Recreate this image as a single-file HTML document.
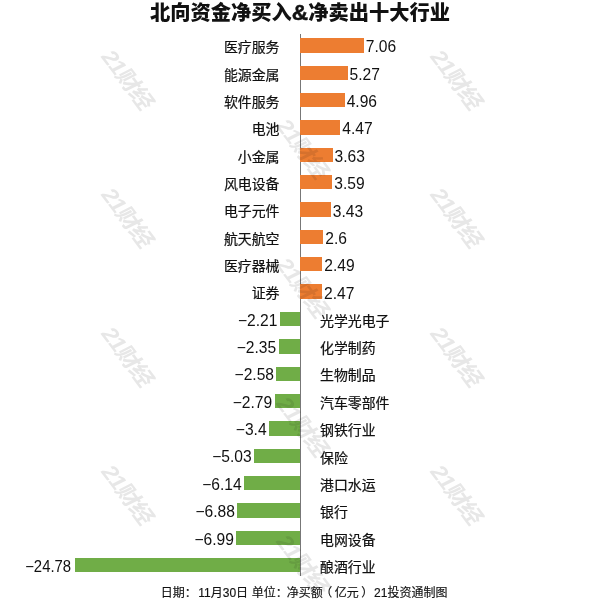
<!DOCTYPE html>
<html lang="zh"><head><meta charset="utf-8"><title>北向资金净买入&amp;净卖出十大行业</title>
<style>
html,body{margin:0;padding:0;background:#fff;}
body{width:600px;height:600px;position:relative;overflow:hidden;font-family:"Liberation Sans","Noto Sans CJK SC",sans-serif;color:#1a1a1a;}
.t{position:absolute;left:0;width:600px;text-align:center;top:-1.1px;font-size:20.4px;font-weight:900;line-height:28px;color:#111;white-space:nowrap;transform:scaleX(0.993);transform-origin:300.3px 0;}
.b{position:absolute;height:14.4px;}
.o{background:#ed7d31;}
.g{background:#70ad47;}
.c{position:absolute;font-size:13.9px;-webkit-text-stroke:0.22px #111;color:#111;line-height:20px;height:20px;white-space:nowrap;}
.v{position:absolute;font-size:15.6px;color:#111;line-height:20px;height:20px;white-space:nowrap;}
.r{text-align:right;}
.ax{position:absolute;left:300px;top:34px;width:1px;height:542px;background:#777;}
.f{position:absolute;left:160.7px;top:584.6px;-webkit-text-stroke:0.15px #111;font-size:12px;line-height:16px;white-space:nowrap;color:#111;}
.w{position:absolute;width:120px;height:30px;margin-left:-60px;margin-top:-15px;line-height:30px;text-align:center;font-size:22px;font-weight:bold;color:#e7e7e7;mix-blend-mode:multiply;transform:rotate(53deg) skewX(-10deg) scaleX(1.06);white-space:nowrap;letter-spacing:-1px;}
</style></head><body>
<div class="t">北向资金净买入<span style="-webkit-text-stroke:0.5px #111;font-size:1.12em;line-height:1">&amp;</span>净卖出十大行业</div>

<div class="ax"></div>
<div class="b o" style="left:299.9px;top:38.2px;width:64.1px"></div>
<div class="c r" style="right:320.5px;top:37.1px">医疗服务</div>
<div class="v" style="left:365.8px;top:37.3px">7.06</div>
<div class="b o" style="left:299.9px;top:65.6px;width:47.9px"></div>
<div class="c r" style="right:320.5px;top:64.5px">能源金属</div>
<div class="v" style="left:349.5px;top:64.7px">5.27</div>
<div class="b o" style="left:299.9px;top:92.9px;width:45.1px"></div>
<div class="c r" style="right:320.5px;top:91.8px">软件服务</div>
<div class="v" style="left:346.7px;top:92.0px">4.96</div>
<div class="b o" style="left:299.9px;top:120.3px;width:40.6px"></div>
<div class="c r" style="right:320.5px;top:119.2px">电池</div>
<div class="v" style="left:342.3px;top:119.4px">4.47</div>
<div class="b o" style="left:299.9px;top:147.6px;width:33.0px"></div>
<div class="c r" style="right:320.5px;top:146.5px">小金属</div>
<div class="v" style="left:334.6px;top:146.7px">3.63</div>
<div class="b o" style="left:299.9px;top:175.0px;width:32.6px"></div>
<div class="c r" style="right:320.5px;top:173.9px">风电设备</div>
<div class="v" style="left:334.3px;top:174.1px">3.59</div>
<div class="b o" style="left:299.9px;top:202.4px;width:31.2px"></div>
<div class="c r" style="right:320.5px;top:201.3px">电子元件</div>
<div class="v" style="left:332.8px;top:201.5px">3.43</div>
<div class="b o" style="left:299.9px;top:229.7px;width:23.6px"></div>
<div class="c r" style="right:320.5px;top:228.6px">航天航空</div>
<div class="v" style="left:325.3px;top:228.8px">2.6</div>
<div class="b o" style="left:299.9px;top:257.1px;width:22.6px"></div>
<div class="c r" style="right:320.5px;top:256.0px">医疗器械</div>
<div class="v" style="left:324.3px;top:256.2px">2.49</div>
<div class="b o" style="left:299.9px;top:284.4px;width:22.4px"></div>
<div class="c r" style="right:320.5px;top:283.3px">证券</div>
<div class="v" style="left:324.1px;top:283.5px">2.47</div>
<div class="b g" style="left:279.8px;top:311.8px;width:20.1px"></div>
<div class="c" style="left:320.0px;top:310.7px">光学光电子</div>
<div class="v r" style="right:322.6px;top:310.6px">−2.21</div>
<div class="b g" style="left:278.5px;top:339.2px;width:21.4px"></div>
<div class="c" style="left:320.0px;top:338.1px">化学制药</div>
<div class="v r" style="right:323.9px;top:338.0px">−2.35</div>
<div class="b g" style="left:276.4px;top:366.5px;width:23.4px"></div>
<div class="c" style="left:320.0px;top:365.4px">生物制品</div>
<div class="v r" style="right:326.0px;top:365.3px">−2.58</div>
<div class="b g" style="left:274.5px;top:393.9px;width:25.3px"></div>
<div class="c" style="left:320.0px;top:392.8px">汽车零部件</div>
<div class="v r" style="right:327.9px;top:392.7px">−2.79</div>
<div class="b g" style="left:269.0px;top:421.2px;width:30.9px"></div>
<div class="c" style="left:320.0px;top:420.1px">钢铁行业</div>
<div class="v r" style="right:333.4px;top:420.0px">−3.4</div>
<div class="b g" style="left:254.1px;top:448.6px;width:45.7px"></div>
<div class="c" style="left:320.0px;top:447.5px">保险</div>
<div class="v r" style="right:348.3px;top:447.4px">−5.03</div>
<div class="b g" style="left:244.1px;top:476.0px;width:55.8px"></div>
<div class="c" style="left:320.0px;top:474.9px">港口水运</div>
<div class="v r" style="right:358.3px;top:474.8px">−6.14</div>
<div class="b g" style="left:237.3px;top:503.3px;width:62.5px"></div>
<div class="c" style="left:320.0px;top:502.2px">银行</div>
<div class="v r" style="right:365.1px;top:502.1px">−6.88</div>
<div class="b g" style="left:236.3px;top:530.7px;width:63.5px"></div>
<div class="c" style="left:320.0px;top:529.6px">电网设备</div>
<div class="v r" style="right:366.1px;top:529.5px">−6.99</div>
<div class="b g" style="left:74.7px;top:558.0px;width:225.2px"></div>
<div class="c" style="left:320.0px;top:556.9px">酿酒行业</div>
<div class="v r" style="right:528.9px;top:556.8px;transform:scaleX(0.955);transform-origin:100% 50%">−24.78</div>
<div class="f">日期：<span style="margin-left:1.6px">11月30日</span><span style="margin-left:0.3px"> 单位：</span><span style="margin-left:-1.1px">净买额</span><span style="position:relative;left:-2.5px">（</span>亿元<span style="position:relative;left:2.5px">）</span> 21投资通制图</div>
<div class="w" style="left:127px;top:80px">21财经</div>
<div class="w" style="left:127px;top:218px">21财经</div>
<div class="w" style="left:127px;top:357px">21财经</div>
<div class="w" style="left:127px;top:495px">21财经</div>
<div class="w" style="left:302px;top:149px">21财经</div>
<div class="w" style="left:302px;top:288px">21财经</div>
<div class="w" style="left:302px;top:427px">21财经</div>
<div class="w" style="left:302px;top:565px">21财经</div>
<div class="w" style="left:456px;top:80px">21财经</div>
<div class="w" style="left:456px;top:218px">21财经</div>
<div class="w" style="left:456px;top:357px">21财经</div>
<div class="w" style="left:456px;top:495px">21财经</div>
</body></html>
